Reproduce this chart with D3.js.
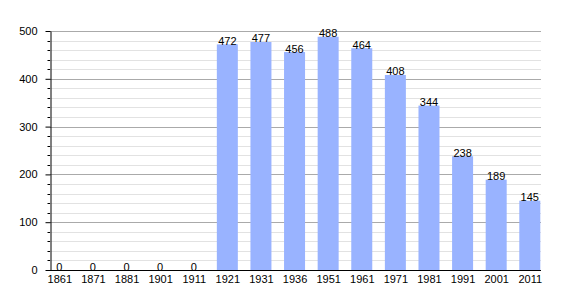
<!DOCTYPE html>
<html><head><meta charset="utf-8">
<script src="https://cdn.jsdelivr.net/npm/d3@7"></script>
<style>body{margin:0;background:#fff}svg{display:block;font-family:"Liberation Sans",Arial,sans-serif}</style>
</head><body><svg id="c" width="570" height="300"></svg>
<script>
const years = ["1861","1871","1881","1901","1911","1921","1931","1936","1951","1961","1971","1981","1991","2001","2011"];
const population = [0,0,0,0,0,472,477,456,488,464,408,344,238,189,145];
const yTicks = [0,100,200,300,400,500];

(function(){
const svg = d3.select("#c");
const pl = 50, pr = 541, pt = 31, pb = 270;
const x = d3.scalePoint().domain(years).range([59.3, 529.8]);
const y = d3.scaleLinear().domain([0,500]).range([pb, pt]);
const bw = 21;
const minor = d3.range(20,501,20).filter(v=>v%100!==0);

svg.append("g").selectAll("line").data(minor).join("line")
  .attr("x1",pl).attr("x2",pr).attr("y1",d=>Math.round(y(d))+0.5).attr("y2",d=>Math.round(y(d))+0.5)
  .attr("stroke","#e2e2e2").attr("stroke-width",1);
svg.append("g").selectAll("line").data(yTicks.filter(v=>v>0)).join("line")
  .attr("x1",pl).attr("x2",pr).attr("y1",d=>Math.round(y(d))+0.5).attr("y2",d=>Math.round(y(d))+0.5)
  .attr("stroke","#aaaaaa").attr("stroke-width",1);

svg.append("g").selectAll("rect").data(years).join("rect")
  .attr("x",(d)=>x(d)-bw/2).attr("width",bw)
  .attr("y",(d,i)=>y(population[i])).attr("height",(d,i)=>pb-y(population[i]))
  .attr("fill","#99b3ff");

svg.append("g").selectAll("text").data(years).join("text")
  .attr("x",d=>x(d)).attr("y",(d,i)=>y(population[i])+0.5)
  .attr("text-anchor","middle").attr("font-size",11).attr("fill","#000")
  .text((d,i)=>population[i]);

const yAxis = d3.axisLeft(y).tickValues(yTicks).tickSize(5).tickPadding(8).tickSizeOuter(0);
const ga = svg.append("g").attr("transform",`translate(${pl+0.5},0)`).call(yAxis);
ga.select(".domain").attr("stroke","#000");
ga.selectAll(".tick line").attr("stroke","#000");
ga.selectAll("text").attr("font-size",11).attr("fill","#000").attr("font-family","Liberation Sans, Arial, sans-serif");
svg.append("g").selectAll("line").data(minor).join("line")
  .attr("x1",pl-2.5).attr("x2",pl).attr("y1",d=>Math.round(y(d))+0.5).attr("y2",d=>Math.round(y(d))+0.5)
  .attr("stroke","#000");

const xAxis = d3.axisBottom(x).tickSize(0).tickPadding(5).tickSizeOuter(0);
const gx = svg.append("g").attr("transform",`translate(0,${pb+0.5})`).call(xAxis);
gx.select(".domain").attr("d",`M${pl},0H${pr}`).attr("stroke","#000");
gx.selectAll("text").attr("font-size",11).attr("fill","#000").attr("font-family","Liberation Sans, Arial, sans-serif");
})();
</script></body></html>
